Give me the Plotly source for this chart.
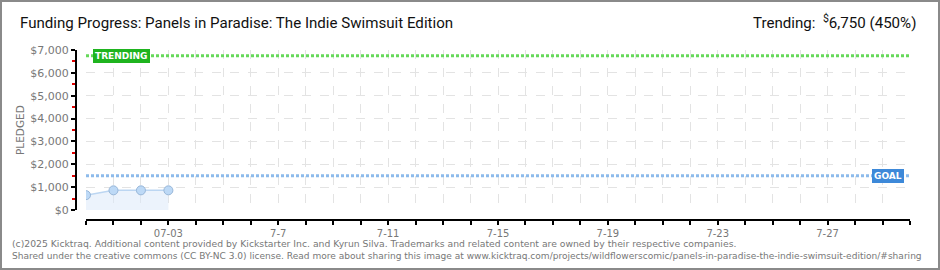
import plotly.graph_objects as go

# ---- data ----
dates = ["2025-06-30", "2025-07-01", "2025-07-02", "2025-07-03"]
pledged = [650, 860, 860, 860]
goal = 1500
trending = 6750
x_range = ["2025-06-30", "2025-07-30"]
tick_dates = ["2025-07-03", "2025-07-07", "2025-07-11", "2025-07-15",
              "2025-07-19", "2025-07-23", "2025-07-27"]
tick_labels = ["07-03", "7-7", "7-11", "7-15", "7-19", "7-23", "7-27"]
y_ticks = [0, 1000, 2000, 3000, 4000, 5000, 6000, 7000]
y_labels = ["&#36;" + f"{v:,}" for v in y_ticks]

W, H = 940, 270
ML, MR, MT, MB = 76, 30, 50, 50
PW = W - ML - MR
PH = H - MT - MB

def px_x(p):
    return (p - ML) / PW

def px_y(p):
    return (H - MB - p) / PH

fig = go.Figure()

fig.add_trace(go.Scatter(
    x=x_range, y=[trending, trending], mode="lines",
    line=dict(color="#66d95a", width=3, dash="3px,2px"), hoverinfo="skip"))
fig.add_trace(go.Scatter(
    x=x_range, y=[goal, goal], mode="lines",
    line=dict(color="#8dbbeb", width=3, dash="3px,2px"), hoverinfo="skip"))
fig.add_trace(go.Scatter(
    x=dates, y=pledged, mode="lines+markers", fill="tozeroy",
    fillcolor="rgba(220,234,250,0.55)",
    line=dict(color="#bcd6f2", width=1.5),
    marker=dict(size=9, color="#bdd9f6", line=dict(color="#97b6d8", width=1)),
    hoverinfo="skip"))

grid = "#e3e3e3"
fig.update_layout(
    width=W, height=H,
    margin=dict(l=ML, r=MR, t=MT, b=MB),
    paper_bgcolor="white", plot_bgcolor="white",
    showlegend=False,
    title=dict(text="Funding Progress: Panels in Paradise: The Indie Swimsuit Edition",
               x=20 / W, xanchor="left", xref="container",
               y=1 - 23 / H, yanchor="middle", yref="container",
               font=dict(family="Roboto", size=15.1, color="#111")),
    xaxis=dict(
        type="date", range=x_range, domain=[10 / PW, 1],
        anchor="free", position=0,
        tickvals=tick_dates, ticktext=tick_labels,
        ticks="outside", ticklen=4, tickwidth=1.5, tickcolor="#000",
        showline=True, linecolor="#000", linewidth=2,
        showgrid=True, gridcolor=grid, griddash="dash", gridwidth=1,
        zeroline=False,
        tickfont=dict(family="DejaVu Sans", size=10, color="#777"),
        minor=dict(dtick=86400000, tick0="2025-06-30", ticks="outside",
                   ticklen=4, tickwidth=1.5, tickcolor="#000",
                   showgrid=True, gridcolor=grid, griddash="dash"),
    ),
    yaxis=dict(
        range=[0, 7000], domain=[10 / PH, 1],
        anchor="free", position=0,
        tickvals=y_ticks, ticktext=y_labels,
        ticks="outside", ticklen=4, tickwidth=1.5, tickcolor="#000",
        showline=True, linecolor="#000", linewidth=2,
        showgrid=True, gridcolor=grid, griddash="dash", gridwidth=1,
        zeroline=False,
        tickfont=dict(family="DejaVu Sans", size=11, color="#777"),
        minor=dict(dtick=500, ticks="outside", ticklen=3, tickwidth=1.5,
                   tickcolor="#e00000", showgrid=False),
    ),
)

fig.add_annotation(
    text="Trending:  <sup>&#36;</sup>6,750 (450%)",
    xref="paper", yref="paper", x=px_x(918), y=px_y(22),
    xanchor="right", yanchor="middle", showarrow=False,
    font=dict(family="Roboto", size=15.1, color="#111"))

fig.add_annotation(
    text="PLEDGED", textangle=-90,
    xref="paper", yref="paper", x=px_x(20), y=px_y(130),
    xanchor="center", yanchor="middle", showarrow=False,
    font=dict(family="DejaVu Sans", size=10.5, color="#777"))

fig.add_annotation(
    text="<b>TRENDING</b>", xref="paper", yref="y",
    x=px_x(93), y=trending, xanchor="left", yanchor="middle",
    showarrow=False, bgcolor="#1fb41f", bordercolor="#1fb41f",
    borderpad=1, font=dict(family="DejaVu Sans", size=9, color="white"))

fig.add_annotation(
    text="<b>GOAL</b>", xref="paper", yref="y",
    x=px_x(904), y=goal, xanchor="right", yanchor="middle",
    showarrow=False, bgcolor="#3d89d9", bordercolor="#3d89d9",
    borderpad=1, font=dict(family="DejaVu Sans", size=9, color="white"))

fig.add_annotation(
    text="(c)2025 Kicktraq. Additional content provided by Kickstarter Inc. and Kyrun Silva. "
         "Trademarks and related content are owned by their respective companies.",
    xref="paper", yref="paper", x=px_x(10), y=px_y(243),
    xanchor="left", yanchor="middle", showarrow=False,
    font=dict(family="DejaVu Sans", size=9.25, color="#777"))

fig.add_annotation(
    text="Shared under the creative commons (CC BY-NC 3.0) license. Read more about sharing "
         "this image at www.kicktraq.com/projects/wildflowerscomic/panels-in-paradise-the-"
         "indie-swimsuit-edition/#sharing",
    xref="paper", yref="paper", x=px_x(10), y=px_y(256),
    xanchor="left", yanchor="middle", showarrow=False,
    font=dict(family="DejaVu Sans", size=9.05, color="#777"))

fig.add_shape(type="rect", xref="paper", yref="paper",
              x0=px_x(1), x1=px_x(W - 1), y0=px_y(H - 1), y1=px_y(1),
              line=dict(color="#8a8a8a", width=2), fillcolor="rgba(0,0,0,0)",
              layer="above")

fig.write_html("out.html")
